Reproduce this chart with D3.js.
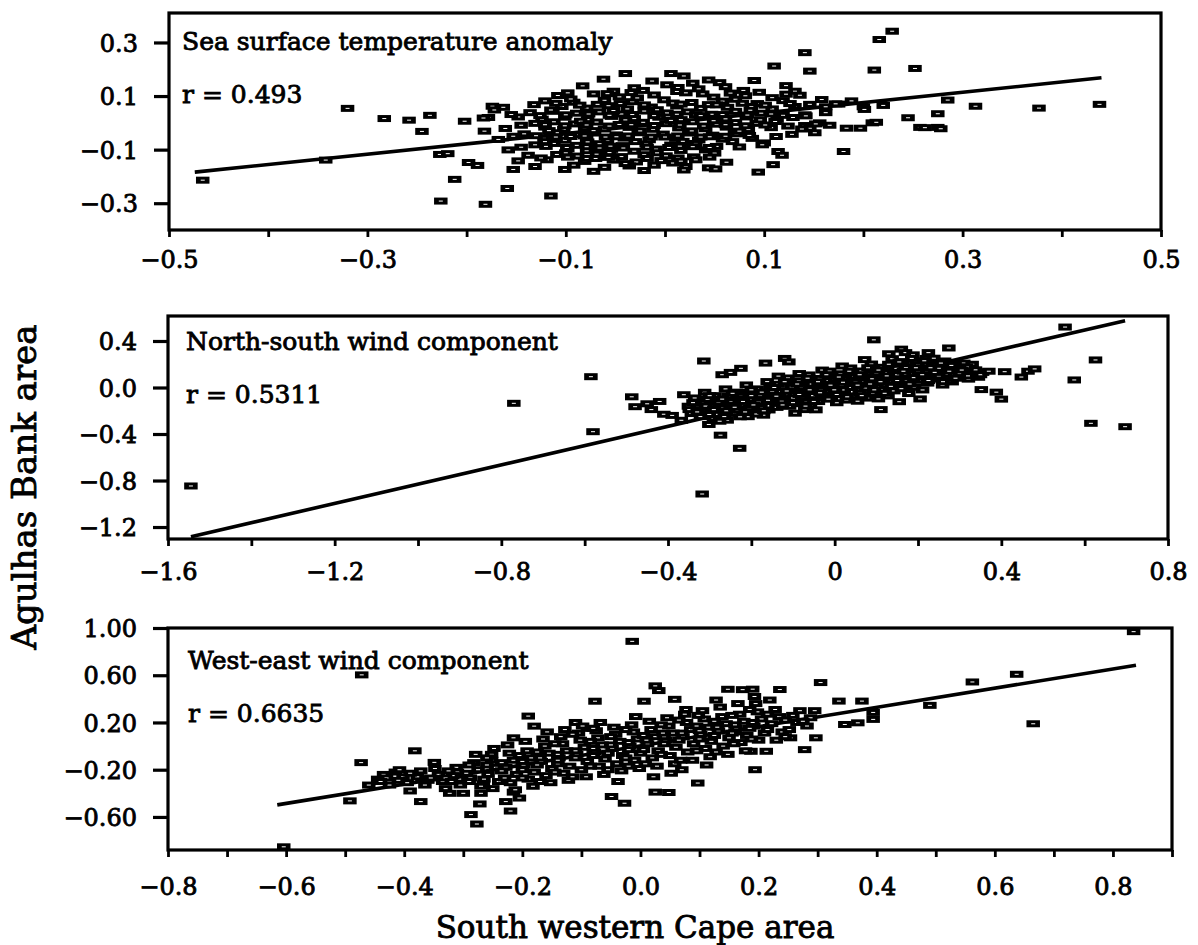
<!DOCTYPE html>
<html><head><meta charset="utf-8">
<script src="https://cdn.jsdelivr.net/npm/d3@7"></script>
<style>
body{margin:0;background:#fff}
svg{display:block}
text{font-family:"DejaVu Serif",serif;fill:#000;stroke:#000;stroke-width:0.85px}
</style>
</head><body>
<svg id="chart" width="1198" height="945"></svg>
<script>
// ---------- Panel 1: Sea surface temperature anomaly ----------
const sstPoints = [
[-0.466,-0.214],[-0.342,-0.139],[-0.320,0.054],[-0.283,0.016],[-0.258,0.010],[-0.245,-0.032],[-0.237,0.028],[-0.226,-0.292],[-0.227,-0.118],[-0.219,-0.115],[-0.212,-0.211],[-0.202,0.006],[-0.198,-0.148],[-0.189,-0.159],[-0.182,-0.031],[-0.181,-0.304],[-0.174,0.062],[-0.172,0.048],[-0.178,0.020],[-0.159,-0.245],[-0.153,-0.174],[-0.115,-0.273],[-0.101,-0.174],
[-0.040,0.184],[0.006,0.184],[0.019,0.175],[-0.013,0.156],[0.013,0.132],[0.044,0.160],[0.055,0.150],[0.110,0.212],[0.141,0.262],[0.146,0.193],[0.216,0.311],[0.229,0.342],[0.211,0.197],[0.252,0.203],[0.285,0.085],[0.313,0.062],[0.377,0.055],[0.438,0.069],[0.275,0.034],[0.245,0.019],[0.257,-0.017],[0.275,-0.017],[0.197,-0.020],[0.209,0.000],[0.180,-0.107],[0.094,-0.184],[0.100,-0.075],[0.114,-0.107],[0.141,-0.010],[0.146,-0.020],[0.156,0.000],[0.162,0.060],[0.175,0.070],[0.200,0.060],[0.220,0.065],[0.141,0.030],[0.070,-0.040],
[-0.062,0.163],[0.028,0.148],[0.090,0.158],[0.122,0.139],
[-0.083,0.138],[-0.031,0.131],[0.002,0.142],[0.034,0.127],[0.061,0.135],[0.079,0.121],[0.131,0.118],[-0.052,0.118],
[-0.108,0.102],[-0.072,0.108],[-0.046,0.097],[-0.011,0.104],[0.021,0.112],[0.049,0.096],[0.081,0.101],[0.108,0.094],[0.136,0.103],[0.158,0.087],[-0.022,0.121],
[-0.121,0.082],[-0.092,0.077],[-0.061,0.084],[-0.033,0.079],[-0.001,0.086],[0.027,0.076],[0.058,0.081],[0.093,0.072],[0.119,0.083],[0.172,0.071],[0.188,0.082],
[-0.163,0.058],[-0.104,0.061],[-0.079,0.055],[-0.057,0.064],[-0.038,0.052],[-0.014,0.059],[0.012,0.063],[0.036,0.054],[0.063,0.058],[0.087,0.061],[0.108,0.052],[0.131,0.061],[0.201,0.050],
[-0.136,0.038],[-0.113,0.043],[-0.089,0.036],[-0.066,0.041],[-0.044,0.033],[-0.021,0.044],[0.002,0.037],[0.023,0.041],[0.047,0.032],[0.071,0.043],[0.097,0.036],[0.119,0.028],[0.162,0.038],
[-0.183,0.018],[-0.148,0.022],[-0.124,0.014],[-0.101,0.021],[-0.078,0.012],[-0.054,0.024],[-0.031,0.016],[-0.006,0.021],[0.016,0.012],[0.039,0.023],[0.061,0.015],[0.082,0.022],[0.113,0.013],[0.129,0.020],
[-0.131,-0.002],[-0.112,0.004],[-0.091,-0.004],[-0.069,0.003],[-0.046,-0.006],[-0.022,0.002],[0.001,-0.003],[0.028,0.004],[0.052,-0.005],[0.071,0.001],[0.092,-0.002],[0.111,0.005],[0.152,-0.004],[0.213,0.002],
[-0.161,-0.021],[-0.121,-0.016],[-0.102,-0.024],[-0.081,-0.018],[-0.061,-0.023],[-0.036,-0.017],[-0.012,-0.024],[0.014,-0.019],[0.041,-0.022],[0.062,-0.016],[0.084,-0.025],[0.107,-0.018],[0.138,-0.023],[0.183,-0.020],[0.262,-0.018],[0.278,-0.022],
[-0.142,-0.041],[-0.109,-0.037],[-0.088,-0.044],[-0.071,-0.038],[-0.049,-0.045],[-0.027,-0.037],[-0.002,-0.042],[0.024,-0.038],[0.048,-0.046],[0.072,-0.041],[0.128,-0.043],[0.151,-0.037],
[-0.168,-0.062],[-0.122,-0.058],[-0.101,-0.065],[-0.079,-0.059],[-0.058,-0.066],[-0.041,-0.057],[-0.016,-0.063],[0.011,-0.058],[0.034,-0.064],[0.058,-0.061],[0.088,-0.058],
[-0.131,-0.082],[-0.112,-0.077],[-0.089,-0.084],[-0.066,-0.078],[-0.043,-0.085],[-0.019,-0.079],[0.006,-0.083],[0.031,-0.077],[0.052,-0.088],[0.098,-0.082],
[-0.158,-0.101],[-0.098,-0.097],[-0.079,-0.104],[-0.054,-0.099],[-0.031,-0.106],[-0.009,-0.098],[0.016,-0.103],[0.041,-0.101],[0.118,-0.121],
[-0.138,-0.121],[-0.109,-0.118],[-0.088,-0.124],[-0.069,-0.117],[-0.044,-0.126],[-0.021,-0.119],[0.001,-0.123],[0.029,-0.127],
[-0.148,-0.142],[-0.119,-0.138],[-0.081,-0.144],[-0.052,-0.139],[-0.029,-0.146],[-0.004,-0.141],[0.031,-0.138],[0.062,-0.147],
[-0.131,-0.163],[-0.092,-0.158],[-0.061,-0.166],[-0.036,-0.161],[-0.011,-0.158],[0.021,-0.163],[0.044,-0.168],[0.109,-0.156],
[-0.072,-0.181],[-0.021,-0.178],[0.019,-0.176],[0.051,-0.172],
[-0.095,0.089],[-0.068,0.069],[-0.028,0.093],[0.008,0.074],[0.044,0.068],[0.071,0.088],[-0.115,0.048],[-0.052,0.046],[-0.008,0.049],[0.031,0.030],[0.086,0.047],[-0.085,0.006],[-0.040,0.011],[0.006,0.009],[0.049,0.008],[0.096,0.011],[-0.117,-0.029],[-0.072,-0.029],[-0.025,-0.030],[0.027,-0.030],[0.075,-0.031],[-0.095,-0.051],[-0.049,-0.052],[0.000,-0.053],[0.045,-0.052],[-0.121,-0.070],[-0.078,-0.071],[-0.030,-0.070],[0.018,-0.069],[0.068,-0.070],[-0.066,-0.094],[-0.018,-0.091],[0.028,-0.089],[-0.100,-0.112],[-0.056,-0.111],[-0.008,-0.112],[0.050,-0.113],[-0.070,-0.133],[-0.040,-0.152],[0.008,-0.150],
[-0.098,0.112],[-0.058,0.109],[-0.034,0.113],[0.012,0.117],[0.038,0.108],[0.066,0.111],[0.095,0.114],[0.122,0.107],
[-0.132,0.068],[-0.110,0.073],[-0.086,0.066],[-0.045,0.072],[-0.021,0.067],[0.016,0.070],[0.052,0.067],[0.078,0.073],[0.101,0.066],[0.126,0.072],[0.146,0.069],
[-0.155,0.031],[-0.126,0.027],[-0.100,0.030],[-0.077,0.033],[-0.056,0.028],[-0.033,0.031],[-0.011,0.027],[0.012,0.032],[0.036,0.027],[0.058,0.031],[0.083,0.029],[0.107,0.033],[0.142,0.026],
[-0.145,-0.009],[-0.121,-0.007],[-0.101,-0.011],[-0.079,-0.008],[-0.056,-0.012],[-0.034,-0.007],[-0.011,-0.010],[0.015,-0.008],[0.039,-0.012],[0.061,-0.007],[0.081,-0.011],[0.101,-0.008],[0.124,-0.012],[0.166,-0.009],
[-0.153,-0.050],[-0.130,-0.048],[-0.110,-0.053],[-0.081,-0.049],[-0.060,-0.053],[-0.037,-0.049],[-0.014,-0.053],[0.013,-0.049],[0.036,-0.053],[0.061,-0.050],[0.085,-0.047],[0.112,-0.051],
[-0.145,-0.091],[-0.120,-0.088],[-0.099,-0.092],[-0.079,-0.089],[-0.055,-0.087],[-0.042,-0.094],[0.004,-0.092],[0.015,-0.087],[0.045,-0.092],[0.075,-0.090],
[-0.125,-0.131],[-0.098,-0.128],[-0.079,-0.133],[-0.057,-0.129],[-0.018,-0.133],[0.013,-0.131],[0.045,-0.128],[0.016,-0.143]
];
const sstLine = [[-0.474,-0.184],[0.440,0.168]];
const sstXTicks = [-0.5,-0.4,-0.3,-0.2,-0.1,0,0.1,0.2,0.3,0.4,0.5];
const sstXLabels = [[-0.5,"\u22120.5"],[-0.3,"\u22120.3"],[-0.1,"\u22120.1"],[0.1,"0.1"],[0.3,"0.3"],[0.5,"0.5"]];
const sstYLabels = [[0.3,"0.3"],[0.1,"0.1"],[-0.1,"\u22120.1"],[-0.3,"\u22120.3"]];

// ---------- Panel 2: North-south wind component ----------
const nsPoints = [
[-1.545,-0.847],[-0.770,-0.136],[-0.585,0.093],[-0.580,-0.380],[0.553,0.520],[0.094,0.410],[0.274,0.340],[0.626,0.237],[0.575,0.065],[0.615,-0.308],[0.697,-0.337],[0.408,0.136],[0.448,0.090],[0.464,0.140],[0.480,0.160],[0.388,-0.040],[0.400,-0.100],[-0.274,-0.410],[-0.228,-0.523],[-0.318,-0.916],[-0.314,0.228],[-0.487,-0.080],[-0.479,-0.165],[-0.420,-0.120],[-0.410,-0.230],[-0.390,-0.240],[-0.120,0.250],[-0.110,0.220],[-0.166,0.210],[-0.270,0.110],[-0.250,0.130],[0.111,-0.190],[0.160,0.330],[0.170,0.300],[0.130,0.290],[0.355,0.130],
[-0.362,-0.062],[-0.351,-0.161],[-0.344,-0.224],[-0.368,-0.282],[-0.335,-0.118],
[-0.312,-0.041],[-0.305,-0.102],[-0.298,-0.152],[-0.318,-0.203],[-0.291,-0.262],[-0.302,-0.318],
[-0.262,-0.012],[-0.255,-0.071],[-0.248,-0.121],[-0.268,-0.172],[-0.241,-0.223],[-0.258,-0.281],
[-0.212,0.022],[-0.205,-0.043],[-0.198,-0.098],[-0.218,-0.148],[-0.191,-0.201],[-0.208,-0.251],[-0.225,0.165],
[-0.162,0.051],[-0.155,-0.008],[-0.148,-0.052],[-0.168,-0.094],[-0.141,-0.142],[-0.158,-0.193],[-0.171,-0.238],[-0.135,0.098],
[-0.112,0.082],[-0.105,0.031],[-0.098,-0.018],[-0.118,-0.061],[-0.091,-0.112],[-0.108,-0.162],[-0.095,-0.221],[-0.085,0.120],
[-0.062,0.108],[-0.055,0.052],[-0.048,0.004],[-0.068,-0.042],[-0.041,-0.098],[-0.058,-0.148],[-0.045,-0.192],[-0.030,0.150],
[-0.012,0.141],[-0.005,0.094],[0.002,0.048],[-0.018,0.002],[0.009,-0.041],[-0.008,-0.083],[0.005,-0.131],[0.018,0.185],
[0.038,0.168],[0.045,0.118],[0.052,0.071],[0.032,0.028],[0.059,-0.018],[0.042,-0.072],[0.055,-0.118],
[0.088,0.202],[0.095,0.151],[0.102,0.099],[0.082,0.052],[0.109,0.004],[0.092,-0.048],[0.105,-0.098],[0.072,0.240],
[0.138,0.248],[0.145,0.196],[0.152,0.142],[0.132,0.082],[0.159,0.031],[0.142,-0.029],[0.155,-0.122],[0.125,0.170],
[0.188,0.281],[0.195,0.221],[0.202,0.168],[0.182,0.118],[0.209,0.062],[0.192,0.002],[0.205,-0.098],[0.220,0.250],
[0.238,0.252],[0.245,0.198],[0.252,0.131],[0.232,0.072],[0.259,0.021],[0.225,0.300],
[0.288,0.202],[0.295,0.148],[0.302,0.098],[0.282,0.048],[0.310,0.210],
[0.338,0.152],[0.345,0.088],[0.352,-0.018],[0.330,0.200],
[-0.336,-0.090],[-0.328,-0.190],[-0.322,-0.250],
[-0.287,-0.070],[-0.279,-0.128],[-0.283,-0.231],[-0.276,-0.290],
[-0.236,-0.040],[-0.229,-0.098],[-0.233,-0.195],[-0.227,-0.252],
[-0.186,-0.012],[-0.179,-0.069],[-0.183,-0.124],[-0.177,-0.175],[-0.188,-0.228],
[-0.136,0.028],[-0.129,-0.031],[-0.133,-0.078],[-0.127,-0.118],[-0.139,-0.171],
[-0.086,0.058],[-0.079,0.006],[-0.083,-0.039],[-0.077,-0.086],[-0.089,-0.139],[-0.072,-0.190],
[-0.036,0.078],[-0.029,0.028],[-0.033,-0.021],[-0.027,-0.068],[-0.039,-0.121],
[0.014,0.118],[0.021,0.071],[0.017,0.022],[0.023,-0.021],[0.011,-0.061],[0.028,-0.108],
[0.064,0.142],[0.071,0.094],[0.067,0.048],[0.073,-0.004],[0.061,-0.046],[0.078,-0.091],
[0.114,0.174],[0.121,0.128],[0.117,0.071],[0.123,0.021],[0.111,-0.022],[0.128,-0.072],
[0.164,0.222],[0.171,0.172],[0.167,0.112],[0.173,0.058],[0.161,0.004],[0.178,-0.052],
[0.214,0.198],[0.221,0.142],[0.217,0.092],[0.223,0.038],[0.211,-0.021],
[0.264,0.228],[0.271,0.172],[0.267,0.112],[0.273,0.058],
[0.314,0.128],[0.321,0.072],[0.317,0.178],
[-0.349,-0.190],[-0.301,-0.232],[-0.251,-0.151],[-0.260,-0.200],[-0.205,-0.175],[-0.200,-0.070],[-0.152,-0.120],[-0.150,-0.030],[-0.100,-0.090],[-0.103,0.002],[-0.052,-0.070],[-0.055,0.030],[-0.001,-0.020],[0.000,0.070],[0.050,0.045],[0.048,0.095],[0.100,0.080],[0.100,0.125],[0.150,0.110],[0.148,0.165],[0.200,0.140],[0.200,0.195],[0.250,0.165],[0.250,0.100],[0.300,0.120],[0.300,0.170],[-0.450,-0.140],[-0.440,-0.190],[0.350,0.110],[0.370,0.140],
[-0.340,-0.130],[-0.330,-0.210],[-0.310,-0.160],[-0.300,-0.070],[-0.290,-0.190],[-0.270,-0.100],[-0.265,-0.250],[-0.245,-0.050],[-0.240,-0.170],[-0.220,-0.120],[-0.215,-0.210],[-0.200,-0.020],[-0.195,-0.150],[-0.175,-0.040],[-0.170,-0.200],[-0.160,-0.110],[-0.145,0.000],[-0.140,-0.075],[-0.125,-0.150],[-0.120,0.050],[-0.115,-0.030],[-0.100,-0.130],[-0.090,0.030],[-0.085,-0.060],[-0.070,-0.160],[-0.065,0.080],[-0.060,-0.020],[-0.050,-0.120],[-0.040,0.050],[-0.035,-0.045],[-0.020,0.110],[-0.015,-0.100],[-0.010,0.020],[0.005,-0.060],[0.010,0.090],[0.020,0.045],[0.030,-0.080],[0.035,0.140],[0.040,0.000],[0.055,0.020],[0.060,0.110],[0.065,-0.070],[0.080,0.170],[0.085,0.030],[0.090,0.075],[0.095,-0.020],[0.105,0.150],[0.110,0.050],[0.120,-0.050],[0.125,0.100],[0.130,0.200],[0.135,0.010],[0.150,0.060],[0.155,0.220],[0.160,-0.010],[0.165,0.140],[0.180,0.030],[0.185,0.250],[0.190,0.085],[0.195,0.170],[0.210,0.110],[0.215,0.230],[0.225,0.060],[0.230,0.170],[0.240,0.130],[0.255,0.210],[0.260,0.050],[0.275,0.140],[0.280,0.190],[0.290,0.080],[0.305,0.150],[0.320,0.100]
];
const nsLine = [[-1.545,-1.283],[0.697,0.575]];
const nsXTicks = [-1.6,-1.4,-1.2,-1.0,-0.8,-0.6,-0.4,-0.2,0,0.2,0.4,0.6,0.8];
const nsXLabels = [[-1.6,"\u22121.6"],[-1.2,"\u22121.2"],[-0.8,"\u22120.8"],[-0.4,"\u22120.4"],[0,"0"],[0.4,"0.4"],[0.8,"0.8"]];
const nsYLabels = [[0.4,"0.4"],[0.0,"0.0"],[-0.4,"\u22120.4"],[-0.8,"\u22120.8"],[-1.2,"\u22121.2"]];

// ---------- Panel 3: West-east wind component ----------
const wePoints = [
[-0.604,-0.853],[-0.472,0.603],[-0.473,-0.140],[-0.492,-0.464],[-0.460,-0.330],[-0.435,-0.240],[-0.445,-0.280],[-0.382,-0.040],[-0.349,-0.138],[-0.372,-0.470],[-0.390,-0.380],[-0.370,-0.280],[-0.360,-0.290],[-0.323,-0.400],[-0.310,-0.220],[-0.307,-0.280],[-0.287,-0.580],[-0.277,-0.660],[-0.272,-0.490],[-0.270,-0.400],[-0.266,-0.320],[-0.252,-0.070],[-0.220,-0.550],[-0.228,-0.470],[-0.205,-0.440],[-0.215,-0.390],[-0.190,0.254],[-0.180,0.169],[-0.215,0.070],[-0.077,0.380],[-0.110,0.200],[-0.090,0.150],
[-0.014,0.887],[0.835,0.969],[0.637,0.608],[0.562,0.543],[0.665,0.189],[0.490,0.345],[0.305,0.538],[0.025,0.510],[0.031,0.470],[0.148,0.481],[0.173,0.478],[0.190,0.482],[0.236,0.479],[0.128,0.390],[0.193,0.420],[0.219,0.390],[0.058,0.396],[0.077,0.310],[0.006,0.380],
[0.336,0.381],[0.375,0.381],[0.394,0.285],[0.394,0.226],[0.346,0.183],[0.368,0.197],[0.297,0.070],[0.254,0.070],[0.278,-0.030],[0.194,-0.200],[0.187,-0.044],[0.213,-0.044],[0.097,-0.313],[0.048,-0.393],[0.025,-0.390],[-0.027,-0.484],[-0.049,-0.427],
[-0.430,-0.270],[-0.425,-0.330],[-0.415,-0.220],
[-0.402,-0.260],[-0.395,-0.310],[-0.408,-0.200],
[-0.372,-0.210],[-0.365,-0.330],[-0.378,-0.260],
[-0.342,-0.240],[-0.335,-0.300],[-0.348,-0.190],[-0.330,-0.360],
[-0.312,-0.180],[-0.305,-0.330],[-0.318,-0.250],[-0.300,-0.400],
[-0.282,-0.140],[-0.275,-0.200],[-0.288,-0.270],[-0.270,-0.340],[-0.279,-0.070],
[-0.252,-0.120],[-0.245,-0.180],[-0.258,-0.240],[-0.240,-0.300],[-0.250,-0.360],[-0.248,-0.020],
[-0.222,-0.060],[-0.215,-0.120],[-0.228,-0.180],[-0.210,-0.240],[-0.220,-0.310],[-0.225,0.010],[-0.212,-0.370],
[-0.192,-0.040],[-0.185,-0.100],[-0.198,-0.160],[-0.180,-0.220],[-0.190,-0.280],[-0.195,0.040],[-0.182,-0.340],
[-0.162,0.000],[-0.155,-0.060],[-0.168,-0.130],[-0.150,-0.190],[-0.160,-0.250],[-0.165,0.060],[-0.152,-0.310],[-0.158,0.120],
[-0.132,0.020],[-0.125,-0.040],[-0.138,-0.100],[-0.120,-0.170],[-0.130,-0.230],[-0.135,0.080],[-0.122,-0.290],[-0.128,0.140],
[-0.102,0.050],[-0.095,-0.010],[-0.108,-0.070],[-0.090,-0.130],[-0.100,-0.200],[-0.105,0.110],[-0.092,-0.260],[-0.098,0.170],
[-0.072,0.070],[-0.065,0.010],[-0.078,-0.050],[-0.060,-0.110],[-0.070,-0.170],[-0.075,0.130],[-0.062,-0.240],[-0.068,0.200],
[-0.042,0.100],[-0.035,0.040],[-0.048,-0.020],[-0.030,-0.080],[-0.040,-0.150],[-0.045,0.160],[-0.032,-0.210],[-0.038,-0.300],
[-0.012,0.120],[-0.005,0.060],[-0.018,0.000],[0.000,-0.060],[-0.010,-0.120],[-0.015,0.180],[-0.002,-0.190],[-0.008,0.250],
[0.018,0.140],[0.025,0.080],[0.012,0.020],[0.030,-0.040],[0.020,-0.100],[0.015,0.210],[0.028,-0.170],[0.022,-0.260],
[0.048,0.170],[0.055,0.110],[0.042,0.050],[0.060,-0.010],[0.050,-0.080],[0.045,0.240],[0.058,-0.150],[0.052,-0.230],
[0.078,0.200],[0.085,0.140],[0.072,0.080],[0.090,0.020],[0.080,-0.050],[0.075,0.270],[0.088,-0.120],[0.070,-0.200],
[0.108,0.230],[0.115,0.160],[0.102,0.100],[0.120,0.040],[0.110,-0.020],[0.105,0.300],[0.118,-0.090],[0.112,-0.160],
[0.138,0.250],[0.145,0.190],[0.132,0.130],[0.150,0.070],[0.140,0.000],[0.135,0.330],[0.148,-0.070],
[0.168,0.270],[0.175,0.210],[0.162,0.150],[0.180,0.090],[0.170,0.030],[0.165,0.360],[0.178,-0.040],
[0.198,0.290],[0.205,0.230],[0.192,0.170],[0.210,0.110],[0.200,0.050],[0.195,0.360],
[0.228,0.310],[0.235,0.250],[0.222,0.190],[0.240,0.120],[0.230,0.050],
[0.258,0.260],[0.265,0.200],[0.252,0.140],
[0.288,0.240],[0.295,0.300],[0.282,0.170],
[-0.200,-0.130],[-0.170,-0.100],[-0.140,-0.070],[-0.110,-0.040],[-0.080,-0.020],[-0.050,0.010],[-0.020,0.030],[0.010,0.050],[0.040,0.080],[0.070,0.110],[0.100,0.130],[0.130,0.160],[0.160,0.180],[0.190,0.200],[-0.200,-0.200],[-0.140,-0.150],[-0.080,-0.080],[-0.020,-0.030],[0.040,0.020],[0.100,0.060],[0.160,0.120],[-0.260,-0.160],[-0.230,-0.270],[-0.290,-0.300],[-0.330,-0.270],
[-0.440,-0.300],[-0.410,-0.290],[-0.390,-0.230],[-0.355,-0.270],[-0.320,-0.300],[-0.325,-0.210],[-0.295,-0.230],[-0.290,-0.160],[-0.265,-0.280],[-0.260,-0.100],[-0.235,-0.210],[-0.235,-0.140],[-0.205,-0.080],[-0.200,-0.270],[-0.175,-0.160],[-0.175,-0.050],[-0.170,-0.300],[-0.145,-0.220],[-0.145,0.020],[-0.140,-0.120],[-0.115,-0.260],[-0.115,0.100],[-0.110,-0.100],[-0.085,-0.170],[-0.085,0.040],[-0.080,0.150],[-0.055,-0.060],[-0.055,-0.200],[-0.050,0.080],[-0.025,0.140],[-0.025,-0.100],[-0.020,-0.170],[0.005,0.090],[0.005,-0.030],[0.008,-0.150],[0.035,0.180],[0.035,-0.070],[0.038,0.110],[0.065,0.050],[0.065,0.220],[0.068,-0.120],[0.095,0.170],[0.095,-0.040],[0.098,0.260],[0.125,0.090],[0.125,0.210],[0.128,-0.050],[0.155,0.260],[0.155,0.110],[0.158,0.020],[0.185,0.150],[0.185,0.310],[0.188,0.060],[0.215,0.270],[0.215,0.140],[0.245,0.220],[0.245,0.080],[0.275,0.210],[0.270,0.300]
];
const weLine = [[-0.615,-0.498],[0.839,0.685]];
const weXTicks = [-0.8,-0.7,-0.6,-0.5,-0.4,-0.3,-0.2,-0.1,0,0.1,0.2,0.3,0.4,0.5,0.6,0.7,0.8,0.9];
const weXLabels = [[-0.8,"\u22120.8"],[-0.6,"\u22120.6"],[-0.4,"\u22120.4"],[-0.2,"\u22120.2"],[0,"0.0"],[0.2,"0.2"],[0.4,"0.4"],[0.6,"0.6"],[0.8,"0.8"]];
const weYLabels = [[1.0,"1.00"],[0.6,"0.60"],[0.2,"0.20"],[-0.2,"\u22120.20"],[-0.6,"\u22120.60"]];

const panelTitles = ["Sea surface temperature anomaly","North-south wind component","West-east wind component"];
const panelR = ["r = 0.493","r = 0.5311","r = 0.6635"];
const yAxisTitle = "Agulhas Bank area";
const xAxisTitle = "South western Cape area";

// ---------- layout ----------
const panels = [
  {pts:sstPoints,line:sstLine,xt:sstXTicks,xl:sstXLabels,yl:sstYLabels,xd:[-0.5,0.5],yd:[-0.4,0.41],
   box:{l:169,r:1161,t:13,b:230},lab:38,title:[182,50],rpos:[182,103]},
  {pts:nsPoints,line:nsLine,xt:nsXTicks,xl:nsXLabels,yl:nsYLabels,xd:[-1.6,0.8],yd:[-1.303,0.615],
   box:{l:168,r:1168,t:316,b:539},lab:41,title:[186,350],rpos:[186,403]},
  {pts:wePoints,line:weLine,xt:weXTicks,xl:weXLabels,yl:weYLabels,xd:[-0.8,0.9],yd:[-0.88,1.0],
   box:{l:168,r:1172,t:628,b:850},lab:45,title:[188,669],rpos:[188,722]}
];

const svg = d3.select("#chart");
const key = v => (Math.round(v*1000)/1000).toFixed(3);

panels.forEach((p,i) => {
  const x = d3.scaleLinear().domain(p.xd).range([p.box.l,p.box.r]);
  const y = d3.scaleLinear().domain(p.yd).range([p.box.b,p.box.t]);
  const g = svg.append("g");

  const xlab = new Map(p.xl.map(d => [key(d[0]), d[1]]));
  const xAxis = d3.axisBottom(x).tickValues(p.xt).tickSize(7).tickPadding(0)
      .tickFormat(d => xlab.get(key(d)) || "");
  const gx = g.append("g").attr("transform",`translate(0,${p.box.b})`).call(xAxis);
  gx.select(".domain").remove();
  gx.selectAll(".tick line").attr("stroke","#000").attr("stroke-width",2.8);
  gx.selectAll(".tick text").attr("y",p.lab).attr("dy",0)
      .attr("font-family","DejaVu Serif").attr("font-size",24).attr("fill","#000");

  const ylab = new Map(p.yl.map(d => [key(d[0]), d[1]]));
  const yAxis = d3.axisLeft(y).tickValues(p.yl.map(d=>d[0])).tickSize(15).tickPadding(16)
      .tickFormat(d => ylab.get(key(d)) || "");
  const gy = g.append("g").attr("transform",`translate(${p.box.l},0)`).call(yAxis);
  gy.select(".domain").remove();
  gy.selectAll(".tick line").attr("stroke","#000").attr("stroke-width",3.2);
  gy.selectAll(".tick text").attr("font-family","DejaVu Serif").attr("font-size",24)
      .attr("fill","#000").attr("dy","0.36em");

  g.append("rect").attr("x",p.box.l).attr("y",p.box.t)
    .attr("width",p.box.r-p.box.l).attr("height",p.box.b-p.box.t)
    .attr("fill","none").attr("stroke","#000").attr("stroke-width",3.2);

  g.append("path").datum(p.line)
    .attr("d", d3.line().x(d=>x(d[0])).y(d=>y(d[1])))
    .attr("stroke","#000").attr("stroke-width",3.6).attr("fill","none");

  // markers: solid black rectangle with a small white dash inside
  const mw = 13.5, mh = 7, dw = 4, dh = 1;
  const m = g.append("g").selectAll("g").data(p.pts).join("g")
    .attr("transform", d => `translate(${x(d[0])},${y(d[1])})`);
  m.append("rect").attr("x",-mw/2).attr("y",-mh/2).attr("width",mw).attr("height",mh)
    .attr("fill","#000");
  m.append("rect").attr("x",-dw/2).attr("y",-dh/2).attr("width",dw).attr("height",dh)
    .attr("fill","#fff");

  g.append("text").attr("x",p.title[0]).attr("y",p.title[1])
    .attr("font-size",25).text(panelTitles[i]);
  g.append("text").attr("x",p.rpos[0]).attr("y",p.rpos[1])
    .attr("font-size",25).text(panelR[i]);
});

svg.append("text").attr("transform","translate(36,487) rotate(-90)")
  .attr("text-anchor","middle").attr("font-size",34).text(yAxisTitle);
svg.append("text").attr("x",635).attr("y",938)
  .attr("text-anchor","middle").attr("font-size",31).text(xAxisTitle);
</script>
</body></html>
